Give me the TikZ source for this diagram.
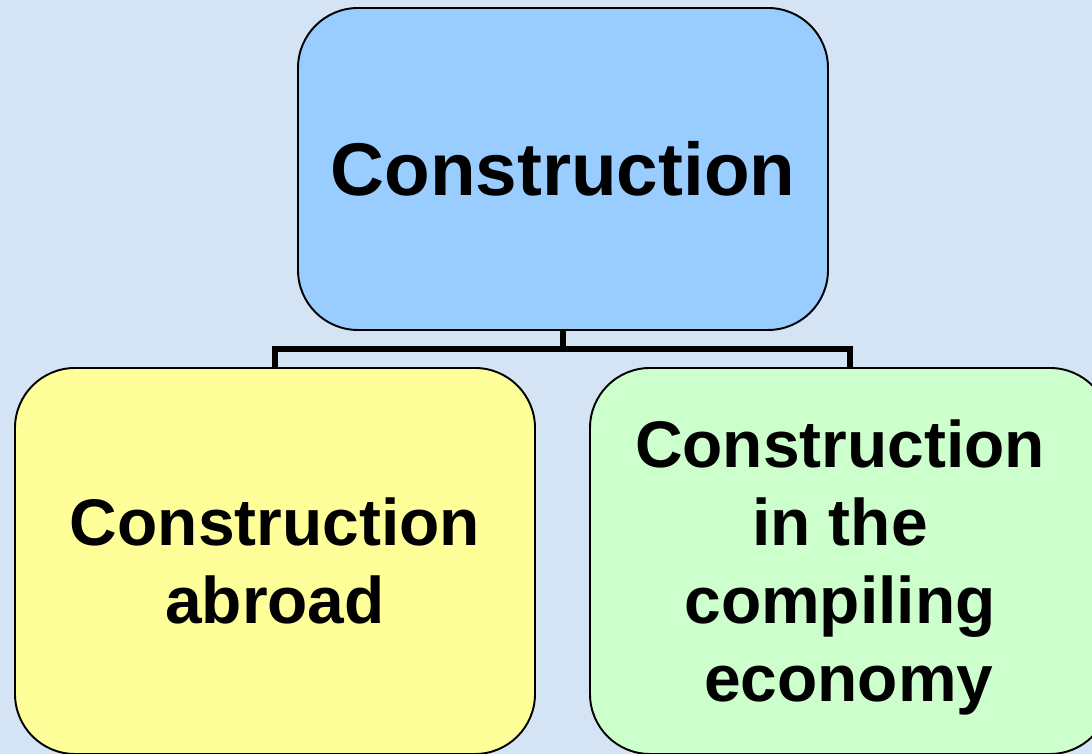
\documentclass[tikz,border=0pt]{standalone}
\usepackage{fontspec}
\setmainfont{Liberation Sans}
\usepackage{tikz}
\usetikzlibrary{positioning}
\definecolor{bgblue}{RGB}{213,228,245}
\definecolor{topblue}{RGB}{153,204,255}
\definecolor{leftyellow}{RGB}{255,255,153}
\definecolor{rightgreen}{RGB}{204,255,204}
\tikzset{
  box/.style={draw=black,line width=1.1pt,rounded corners=1.2cm,align=center,
    font=\fontsize{37.5}{44.5}\selectfont\bfseries},
  topbox/.style={box,fill=topblue,minimum width=10.6cm,minimum height=6.44cm,
    font=\fontsize{42.5}{50}\selectfont\bfseries},
  subbox/.style={box,minimum width=10.4cm,minimum height=7.72cm},
  words/.style={align=center,font=\fontsize{37.5}{44.5}\selectfont\bfseries},
  link/.style={draw=black,line width=3.4pt}
}
\begin{document}
\begin{tikzpicture}[node distance=2cm,on grid]
   \fill[bgblue] (0,0) rectangle (21.84,15.08);
   \useasboundingbox (0,0) rectangle (21.84,15.08);
   \clip (0,0) rectangle (21.84,15.08);
   \node[topbox] (cons) at (11.26,11.7) {Construction};
   \node[subbox,fill=leftyellow] (abroad) [below left=7.84cm and 5.76cm of cons]
      {Construction\\abroad};
   \node[subbox,fill=rightgreen] (home) [below right=7.84cm and 5.74cm of cons] {};
   \node[words] (home-text) at ([xshift=-0.2cm,yshift=-0.13cm]home.center)
      {Construction\\in the\\compiling\\\hspace*{0.35cm}economy};
   \coordinate (split) at ([yshift=-0.36cm]cons.south);
   \path[link] (cons.south) -- (split);
   \path[link] (abroad.north) |- (split) -| (home.north);
\end{tikzpicture}
\end{document}
